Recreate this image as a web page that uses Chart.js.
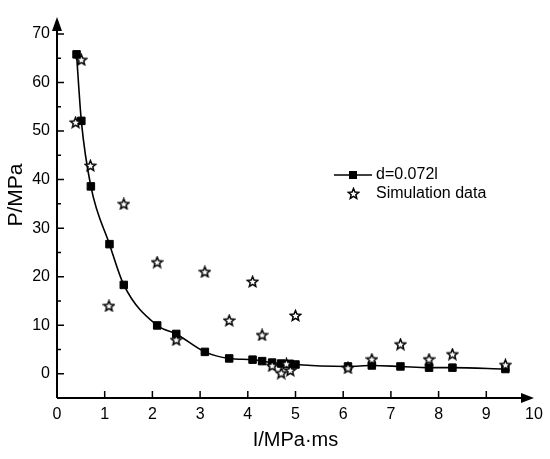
<!DOCTYPE html>
<html>
<head>
<meta charset="utf-8">
<script src="https://cdn.jsdelivr.net/npm/chart.js@4/dist/chart.umd.min.js"></script>
<style>
  html, body { margin: 0; padding: 0; background: #fff; }
  #wrap { width: 550px; height: 459px; }
</style>
</head>
<body>
<div id="wrap"><canvas id="c"></canvas></div>
<script>
// fitted curve d=0.072l
const fitX = [0.41, 0.51, 0.71, 1.10, 1.40, 2.10, 2.50, 3.10, 3.61, 4.10, 4.30, 4.51, 4.70, 4.88, 5.00, 6.10, 6.60, 7.20, 7.80, 8.29, 9.40];
const fitY = [65.8, 52.1, 38.6, 26.7, 18.3, 9.95, 8.2, 4.5, 3.15, 2.9, 2.6, 2.3, 2.1, 2.05, 1.9, 1.5, 1.7, 1.5, 1.25, 1.25, 0.97];

// simulation points
const simX = [0.51, 0.39, 0.70, 1.40, 1.09, 2.10, 2.50, 3.10, 3.61, 4.10, 4.30, 4.51, 4.70, 4.81, 4.89, 5.00, 6.10, 6.60, 7.20, 7.80, 8.29, 9.40];
const simY = [64.7, 51.8, 42.9, 35.0, 14.0, 23.0, 7.0, 21.0, 11.0, 19.0, 8.0, 1.65, 0.15, 2.05, 0.7, 12.0, 1.2, 3.0, 6.1, 3.0, 4.05, 1.85];

const xTicks = [0, 1, 2, 3, 4, 5, 6, 7, 8, 9, 10];
const yTicks = [0, 10, 20, 30, 40, 50, 60, 70];
const yMinor = [5, 15, 25, 35, 45, 55, 65];

const seriesNames = ["d=0.072l", "Simulation data"];
const yTitle = "P/MPa";

const FONT = "'Liberation Sans', Arial, sans-serif";

// star marker
function makeStar(size) {
  const cv = document.createElement("canvas");
  cv.width = size; cv.height = size;
  const g = cv.getContext("2d");
  const cx = size / 2, cy = size / 2 + 0.5;
  const ro = size / 2 - 1, ri = ro * 0.45;
  g.beginPath();
  for (let i = 0; i < 10; i++) {
    const r = i % 2 ? ri : ro;
    const a = -Math.PI / 2 + i * Math.PI / 5;
    const px = cx + r * Math.cos(a), py = cy + r * Math.sin(a);
    if (i === 0) g.moveTo(px, py); else g.lineTo(px, py);
  }
  g.closePath();
  g.fillStyle = "#fff";
  g.fill();
  g.lineWidth = 1.5;
  g.strokeStyle = "#000";
  g.stroke();
  return cv;
}
const starImg = makeStar(13);

// axes, ticks, arrows, legend, y title
const axesPlugin = {
  id: "axesPlugin",
  afterDatasetsDraw(chart) {
    const ctx = chart.ctx;
    const xs = chart.scales.x, ys = chart.scales.y;
    const a = chart.chartArea;
    const x0 = a.left, y0 = a.bottom;
    ctx.save();
    ctx.strokeStyle = "#000";
    ctx.fillStyle = "#000";
    ctx.lineWidth = 2;
    ctx.beginPath();
    ctx.moveTo(x0, y0); ctx.lineTo(a.right - 10, y0);
    ctx.moveTo(x0, y0); ctx.lineTo(x0, a.top + 10);
    ctx.stroke();
    // arrows
    ctx.beginPath();
    ctx.moveTo(a.right, y0); ctx.lineTo(a.right - 13, y0 - 5); ctx.lineTo(a.right - 13, y0 + 5);
    ctx.closePath(); ctx.fill();
    ctx.beginPath();
    ctx.moveTo(x0, a.top); ctx.lineTo(x0 - 5, a.top + 14); ctx.lineTo(x0 + 5, a.top + 14);
    ctx.closePath(); ctx.fill();
    // ticks
    ctx.lineWidth = 1.5;
    ctx.beginPath();
    xTicks.slice(1, -1).forEach(v => {
      const p = xs.getPixelForValue(v);
      ctx.moveTo(p, y0); ctx.lineTo(p, y0 - 7);
    });
    yTicks.forEach(v => {
      const p = ys.getPixelForValue(v);
      ctx.moveTo(x0, p); ctx.lineTo(x0 + 7, p);
    });
    yMinor.forEach(v => {
      const p = ys.getPixelForValue(v);
      ctx.moveTo(x0, p); ctx.lineTo(x0 + 4, p);
    });
    ctx.stroke();

    // y title
    ctx.save();
    ctx.translate(16, 195);
    ctx.rotate(-Math.PI / 2);
    ctx.font = "21px " + FONT;
    ctx.textAlign = "center";
    ctx.textBaseline = "middle";
    ctx.fillText(yTitle, 0, 0);
    ctx.restore();

    // legend
    const lx = 334, ly = 175;
    ctx.lineWidth = 1.5;
    ctx.beginPath();
    ctx.moveTo(lx, ly); ctx.lineTo(lx + 38, ly);
    ctx.stroke();
    ctx.fillRect(lx + 15, ly - 4, 8, 8);
    ctx.drawImage(starImg, lx + 13, ly + 12);
    ctx.font = "16px " + FONT;
    ctx.textBaseline = "middle";
    ctx.textAlign = "left";
    ctx.fillText(seriesNames[0], lx + 42, ly);
    ctx.fillText(seriesNames[1], lx + 42, ly + 19);
    ctx.restore();
  }
};

new Chart(document.getElementById("c"), {
  type: "scatter",
  data: {
    datasets: [
      {
        label: seriesNames[1],
        data: simX.map((x, i) => ({ x: x, y: simY[i] })),
        pointStyle: starImg,
        showLine: false,
        order: 0
      },
      {
        label: seriesNames[0],
        data: fitX.map((x, i) => ({ x: x, y: fitY[i] })),
        showLine: true,
        borderColor: "#000",
        borderWidth: 1.6,
        cubicInterpolationMode: "monotone",
        pointStyle: "rect",
        pointRadius: 5.3,
        pointBackgroundColor: "#000",
        pointBorderColor: "#000",
        pointBorderWidth: 1,
        order: 1
      }
    ]
  },
  options: {
    responsive: true,
    maintainAspectRatio: false,
    animation: false,
    clip: false,
    layout: { padding: { left: 0, right: 16, top: 17, bottom: 0 } },
    plugins: {
      legend: { display: false },
      tooltip: { enabled: false }
    },
    scales: {
      x: {
        type: "linear",
        min: 0, max: 10,
        grid: { display: false, drawTicks: false },
        border: { display: false },
        afterBuildTicks: s => { s.ticks = xTicks.map(v => ({ value: v })); },
        afterFit: s => { s.height = 61; },
        ticks: { color: "#000", padding: 7, font: { family: FONT, size: 16 } },
        title: {
          display: true, text: "I/MPa·ms", color: "#000",
          font: { family: FONT, size: 20 }, padding: { top: 0, bottom: 7 }
        }
      },
      y: {
        type: "linear",
        min: -5, max: 73.5,
        grid: { display: false, drawTicks: false },
        border: { display: false },
        afterBuildTicks: s => { s.ticks = yTicks.map(v => ({ value: v })); },
        afterFit: s => { s.width = 57; },
        ticks: { color: "#000", padding: 7, font: { family: FONT, size: 16 } }
      }
    }
  },
  plugins: [axesPlugin]
});
</script>
</body>
</html>
